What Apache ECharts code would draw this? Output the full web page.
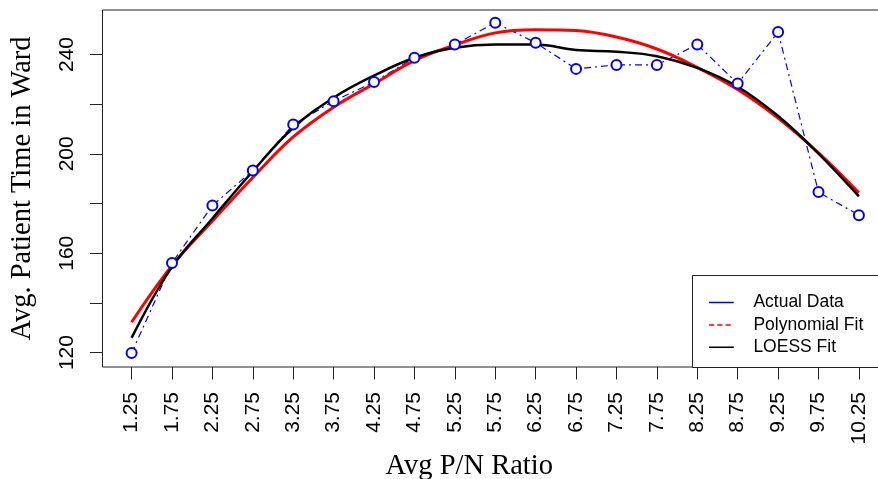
<!DOCTYPE html>
<html>
<head>
<meta charset="utf-8">
<script src="https://cdn.jsdelivr.net/npm/echarts@6/dist/echarts.min.js"></script>
<style>html,body{margin:0;padding:0;background:#fff;}#c{width:878px;height:479px;}</style>
</head>
<body>
<div id="c"></div>
<script>
// Categories (x values) / tick labels
const xValues = [1.25,1.75,2.25,2.75,3.25,3.75,4.25,4.75,5.25,5.75,6.25,6.75,7.25,7.75,8.25,8.75,9.25,9.75,10.25];
// Series values
const actualData = [119.8,156.1,179.2,193.3,211.8,221.2,228.9,238.7,244.0,252.8,244.7,234.2,235.8,235.8,244.0,228.3,249.0,184.6,175.3];
const polyFit    = [132.2,155.0,173.0,190.5,206.8,218.8,228.2,237.5,243.8,248.7,250.0,249.6,247.0,242.2,234.8,225.9,214.4,200.4,184.3];
const loessFit   = [125.9,154.5,174.0,193.0,210.5,222.6,231.5,238.7,242.7,244.0,244.0,241.8,241.1,239.3,234.6,227.0,215.2,200.1,182.9];
// Y ticks
const yTicks = [120,140,160,180,200,220,240];
const yLabels = [120,160,200,240];

const pairs = arr => xValues.map((x, i) => [x, arr[i]]);

const chart = echarts.init(document.getElementById('c'), null, {renderer: 'canvas'});
const tickFont = {fontFamily: 'Liberation Sans', fontSize: 21, color: '#000'};
chart.setOption({
  animation: false,
  backgroundColor: '#fff',
  grid: {left: 102.5, right: -10, top: 10, bottom: 112, show: true, borderColor: '#222', borderWidth: 1,
         backgroundColor: 'transparent', outerBoundsMode: 'none', containLabel: false},
  graphic: [{
    type: 'rect', z: 3, silent: true,
    shape: {x: 692.5, y: 275.5, width: 240, height: 92},
    style: {fill: '#fff', stroke: '#222', lineWidth: 1}
  }],
  xAxis: {
    type: 'value', min: 0.89, max: 10.61,
    name: 'Avg P/N Ratio', nameLocation: 'middle', nameGap: 80,
    nameTextStyle: {fontFamily: 'Liberation Serif', fontSize: 28.5, color: '#000', padding: [0, 52, 0, 0]},
    axisLine: {show: false},
    splitLine: {show: false},
    axisTick: {show: true, inside: false, length: 12.5, lineStyle: {color: '#222', width: 1}, customValues: xValues},
    axisLabel: Object.assign({rotate: 90, margin: 25, customValues: xValues, formatter: v => Number(v).toFixed(2)}, tickFont)
  },
  yAxis: {
    type: 'value', min: 114.2, max: 257.9,
    name: 'Avg. Patient Time in Ward', nameLocation: 'middle', nameGap: 65,
    nameTextStyle: {fontFamily: 'Liberation Serif', fontSize: 28.5, color: '#000'},
    axisLine: {show: false},
    splitLine: {show: false},
    axisTick: {show: true, inside: false, length: 12.5, lineStyle: {color: '#222', width: 1}, customValues: yTicks},
    axisLabel: Object.assign({rotate: 90, margin: 25, customValues: yLabels, formatter: v => String(v)}, tickFont)
  },
  legend: {
    orient: 'vertical', left: 692, top: 275, z: 5,
    backgroundColor: 'transparent', borderWidth: 0,
    padding: [17.5, 10, 11, 17],
    itemWidth: 45, itemHeight: 1.5, itemGap: 2.4,
    textStyle: {fontFamily: 'Liberation Sans', fontSize: 17.5, color: '#000', lineHeight: 20},
    data: [
      {name: 'Actual Data', icon: 'path://M0,0H33V2H0Z M45,0L45,2', itemStyle: {color: '#0000ff', borderWidth: 0}},
      {name: 'Polynomial Fit', icon: 'path://M0,0H7V2H0Z M11,0H18V2H11Z M22,0H29V2H22Z M45,0L45,2', itemStyle: {color: '#ff0000', borderWidth: 0}},
      {name: 'LOESS Fit', icon: 'path://M0,0H33V2H0Z M45,0L45,2', itemStyle: {color: '#000000', borderWidth: 0}}
    ]
  },
  series: [
    {
      name: 'Actual Data', type: 'line', data: pairs(actualData),
      symbol: 'emptyCircle', symbolSize: 10,
      itemStyle: {color: '#0000ff', borderWidth: 1},
      lineStyle: {color: '#0000ff', width: 1.2, type: [7, 4, 2, 4]}
    },
    {
      name: 'Polynomial Fit', type: 'line', data: pairs(polyFit),
      symbol: 'none', smooth: 0.4,
      itemStyle: {color: '#ff0000'},
      lineStyle: {color: '#ff0000', width: 3}
    },
    {
      name: 'LOESS Fit', type: 'line', data: pairs(loessFit),
      symbol: 'none', smooth: 0.4,
      itemStyle: {color: '#000000'},
      lineStyle: {color: '#000000', width: 2.5}
    }
  ]
});
</script>
</body>
</html>
